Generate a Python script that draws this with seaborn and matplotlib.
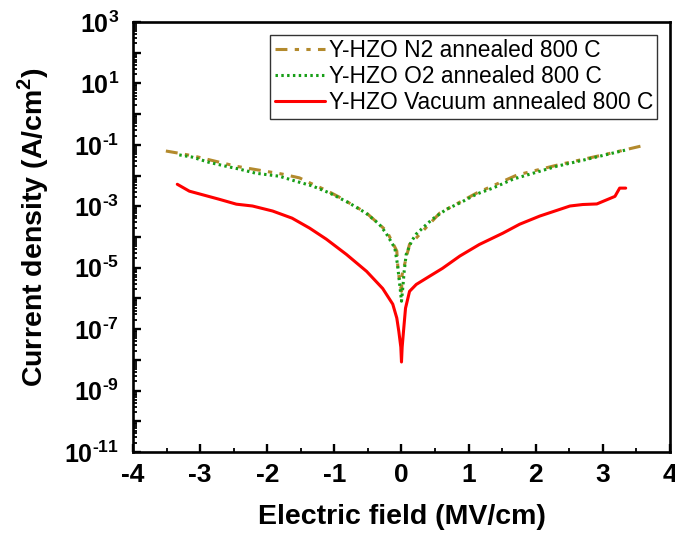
import numpy as np
import pandas as pd
import matplotlib
matplotlib.use("Agg")
import matplotlib.pyplot as plt
from matplotlib.ticker import FixedLocator, FixedFormatter, MultipleLocator, LogLocator, NullFormatter
import seaborn as sns

# J-E characteristics of Y-doped HZO films annealed at 800 C in different ambients
field_n2 = [-3.51, -3.31, -3.09, -2.46, -1.78, -1.52, -1.36, -1.12, -0.93, -0.52, -0.22,
            -0.07, -0.05, 0.0, 0.01, 0.12, 0.22, 0.57, 1.12, 1.72, 2.36, 3.06, 3.63]
j_n2 = [6.3e-2, 5.3e-2, 4.3e-2, 2.0e-2, 1.12e-2, 8.4e-3, 5.7e-3, 3.3e-3, 2.0e-3, 6.0e-4, 1.56e-4,
        3.5e-5, 7.6e-6, 1.7e-6, 6.1e-6, 5.8e-5, 9.3e-5, 6.0e-4, 2.7e-3, 1.04e-2, 2.3e-2, 5.0e-2, 9.8e-2]

field_o2 = [-3.31, -3.12, -2.87, -2.61, -2.42, -2.17, -1.82, -1.57, -1.33, -1.07, -0.78, -0.53,
            -0.33, -0.23, -0.10, -0.06, -0.02, 0.0, 0.02, 0.04, 0.07, 0.15, 0.22, 0.34, 0.46,
            0.67, 0.87, 1.12, 1.36, 1.66, 1.96, 2.31, 2.66, 2.96, 3.33]
j_o2 = [4.7e-2, 4.0e-2, 2.7e-2, 2.0e-2, 1.63e-2, 1.19e-2, 9.5e-3, 6.5e-3, 4.6e-3, 2.7e-3, 1.28e-3, 6.0e-4,
        2.6e-4, 1.33e-4, 4.4e-5, 1.3e-5, 2.1e-6, 8.1e-7, 2.3e-6, 7.6e-6, 2.7e-5, 7.3e-5, 1.25e-4, 2.2e-4, 3.8e-4,
        8.0e-4, 1.28e-3, 2.5e-3, 3.9e-3, 7.6e-3, 1.19e-2, 2.0e-2, 3.0e-2, 4.3e-2, 6.7e-2]

field_vac = [-3.34, -3.16, -2.72, -2.46, -2.22, -1.92, -1.63, -1.37, -1.12, -0.82, -0.52, -0.28,
             -0.13, -0.07, -0.04, -0.01, 0.0, 0.01, 0.03, 0.06, 0.12, 0.22, 0.42, 0.61, 0.87,
             1.16, 1.51, 1.76, 2.06, 2.51, 2.70, 2.91, 3.18, 3.25, 3.34]
j_vac = [5.2e-3, 3.1e-3, 1.7e-3, 1.17e-3, 1.02e-3, 7.0e-4, 4.1e-4, 1.95e-4, 8.5e-5, 2.7e-5, 7.6e-6, 2.1e-6,
         6.5e-7, 2.3e-7, 8.5e-8, 2.6e-8, 8.5e-9, 2.6e-8, 8.5e-8, 4.8e-7, 1.7e-6, 2.85e-6, 5.3e-6, 9.5e-6, 2.4e-5,
         5.7e-5, 1.33e-4, 2.6e-4, 4.8e-4, 1.02e-3, 1.14e-3, 1.19e-3, 2.1e-3, 3.9e-3, 3.9e-3]

labels = ["Y-HZO N2 annealed 800 C", "Y-HZO O2 annealed 800 C", "Y-HZO Vacuum annealed 800 C"]
x_ticks = [-4, -3, -2, -1, 0, 1, 2, 3, 4]
y_exponents = [3, 1, -1, -3, -5, -7, -9, -11]

sns.set_style("white")
plt.rcParams["font.family"] = ["Liberation Sans", "DejaVu Sans"]
plt.rcParams["mathtext.fontset"] = "custom"
plt.rcParams["mathtext.rm"] = "Liberation Sans"
plt.rcParams["mathtext.bf"] = "Liberation Sans:bold"
plt.rcParams["axes.unicode_minus"] = False
for key in ["text.color", "axes.labelcolor", "xtick.color", "ytick.color", "axes.edgecolor"]:
    plt.rcParams[key] = "black"

df_n2 = pd.DataFrame({"E": field_n2, "J": j_n2})
df_o2 = pd.DataFrame({"E": field_o2, "J": j_o2})
df_vac = pd.DataFrame({"E": field_vac, "J": j_vac})

fig = plt.figure(figsize=(6.75, 5.4), dpi=100)
ax = fig.add_axes([0.197, 0.163, 0.7956, 0.7963])

sns.lineplot(data=df_n2, x="E", y="J", ax=ax, sort=False, estimator=None,
             color="#B38A2D", linewidth=2.2, label=labels[0],
             linestyle=(0, (3.9, 2.4, 1.4, 2.4, 1.4, 2.4)))
sns.lineplot(data=df_o2, x="E", y="J", ax=ax, sort=False, estimator=None,
             color="#179E17", linewidth=2.2, label=labels[1],
             linestyle=(0, (0.8, 1.1)))
sns.lineplot(data=df_vac, x="E", y="J", ax=ax, sort=False, estimator=None,
             color="#FF0000", linewidth=2.2, label=labels[2])

ax.set_yscale("log")
ax.set_xlim(-4, 4)
ax.set_ylim(1e-11, 1e3)

ax.xaxis.set_major_locator(FixedLocator(x_ticks))
ax.xaxis.set_major_formatter(FixedFormatter([str(t) for t in x_ticks]))
ax.xaxis.set_minor_locator(MultipleLocator(0.5))

decades = list(range(-11, 4))
ax.yaxis.set_major_locator(FixedLocator([10.0 ** d for d in decades]))
ax.yaxis.set_major_formatter(FixedFormatter(
    [(r"$\mathbf{10^{%s}}$" % str(d).replace("-", "\u2010")) if d in y_exponents else ""
     for d in decades]))
ax.yaxis.set_minor_locator(LogLocator(base=10, subs=np.arange(2, 10), numticks=100))
ax.yaxis.set_minor_formatter(NullFormatter())

ax.tick_params(axis="both", which="major", direction="in", length=6, width=1.7,
               bottom=True, left=True, top=False, right=False)
ax.tick_params(axis="both", which="minor", direction="in", length=3.2, width=1.3,
               bottom=True, left=True, top=False, right=False)
ax.tick_params(axis="x", which="major", labelsize=19, pad=8)
ax.tick_params(axis="y", which="major", labelsize=18, pad=10)
for lab in ax.get_xticklabels():
    lab.set_fontweight("bold")

for sp in ax.spines.values():
    sp.set_linewidth(1.9)
    sp.set_color("black")

ax.set_xlabel("Electric field (MV/cm)", fontsize=20.5, fontweight="bold", labelpad=12)
ax.set_ylabel(r"Current density (A/cm$^\mathbf{2}$)", fontsize=20.5, fontweight="bold")
ax.yaxis.set_label_coords(-0.152, 0.524)

leg = ax.legend(loc="upper right", fontsize=16.4, frameon=True, fancybox=False,
                edgecolor="black", handlelength=2.2, handletextpad=0.15,
                borderaxespad=0.55, labelspacing=0.14, borderpad=0.2)
leg.get_frame().set_linewidth(1.0)

fig.savefig("out.png", dpi=100)
